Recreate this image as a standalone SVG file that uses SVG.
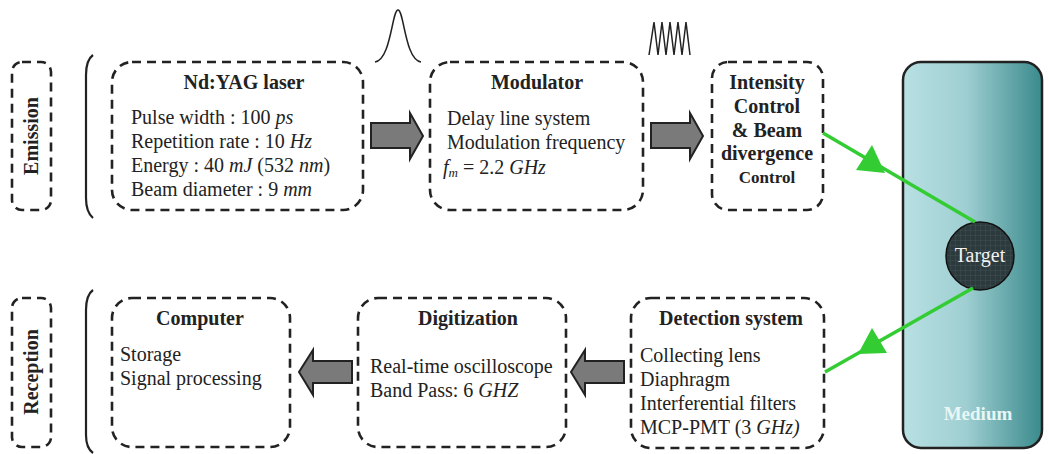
<svg xmlns="http://www.w3.org/2000/svg" width="1049" height="454" viewBox="0 0 1049 454">
<defs>
<style>
.box{fill:none;stroke:#222;stroke-width:2.6;stroke-dasharray:9 6}
text{font-family:'Liberation Serif','Times New Roman',Tinos,'DejaVu Serif',serif;font-size:20px;fill:#222}
.b{font-weight:bold}
.c{text-anchor:middle}
.garrow{fill:#7a7a7a;stroke:#222;stroke-width:2;stroke-linejoin:miter}
.green{stroke:#33cc33;stroke-width:3.5;fill:none}
.gh{fill:#33cc33}
</style>
<linearGradient id="med" x1="0" y1="0" x2="1" y2="0">
<stop offset="0" stop-color="#b8e0e3"/>
<stop offset="0.45" stop-color="#9fcfd2"/>
<stop offset="1" stop-color="#3a8a8c"/>
</linearGradient>
<pattern id="grid" width="5" height="5" patternUnits="userSpaceOnUse">
<rect width="5" height="5" fill="#2c3a3d"/>
<path d="M0,0H5M0,0V5" stroke="#4a5a5c" stroke-width="0.6"/>
</pattern>
</defs>
<rect width="1049" height="454" fill="#fff"/>

<g id="medium">
<rect x="903" y="62" width="139" height="386" rx="18" fill="url(#med)" stroke="#222" stroke-width="2.5"/>
<text class="b c" x="978" y="420" style="fill:#e8f6f6;font-size:19px">Medium</text>
</g>

<g id="emission">
<rect class="box" x="12" y="62" width="39" height="148" rx="10"/>
<text class="b c" transform="translate(38,136) rotate(-90)">Emission</text>
</g>
<g id="reception">
<rect class="box" x="12" y="298" width="39" height="149" rx="10"/>
<text class="b c" transform="translate(38,372) rotate(-90)">Reception</text>
</g>
<g id="brackets">
<path d="M93,55 Q86,60 86,75 V198 Q86,212 93,218" fill="none" stroke="#222" stroke-width="2.2"/>
<path d="M93,290 Q86,295 86,310 V435 Q86,448 93,453" fill="none" stroke="#222" stroke-width="2.2"/>
</g>

<g id="laser">
<rect class="box" x="112" y="62" width="251" height="148" rx="20"/>
<text class="b c" x="244" y="89">Nd:YAG laser</text>
<text x="131" y="124">Pulse width : 100 <tspan font-style="italic">ps</tspan></text>
<text x="131" y="148">Repetition rate : 10 <tspan font-style="italic">Hz</tspan></text>
<text x="131" y="172">Energy : 40 <tspan font-style="italic">mJ</tspan> (532 <tspan font-style="italic">nm</tspan>)</text>
<text x="131" y="196">Beam diameter : 9 <tspan font-style="italic">mm</tspan></text>
</g>

<g id="modulator">
<rect class="box" x="430" y="62" width="213" height="148" rx="20"/>
<text class="b c" x="537" y="89">Modulator</text>
<text x="447" y="125">Delay line system</text>
<text x="447" y="149">Modulation frequency</text>
<text x="443" y="174"><tspan font-style="italic">f</tspan><tspan font-style="italic" style="font-size:13px" dy="3">m</tspan><tspan dy="-3"> = 2.2 </tspan><tspan font-style="italic">GHz</tspan></text>
</g>

<g id="intensity">
<rect class="box" x="712" y="62" width="111" height="148" rx="16"/>
<text class="b c" x="767" y="89">Intensity</text>
<text class="b c" x="767" y="113">Control</text>
<text class="b c" x="767" y="137">&amp; Beam</text>
<text class="b c" x="767" y="160">divergence</text>
<text class="b c" x="767" y="183" style="font-size:17px">Control</text>
</g>

<g id="computer">
<rect class="box" x="112" y="298" width="178" height="149" rx="20"/>
<text class="b c" x="200" y="325">Computer</text>
<text x="120" y="361">Storage</text>
<text x="120" y="385">Signal processing</text>
</g>

<g id="digitization">
<rect class="box" x="358" y="298" width="208" height="149" rx="20"/>
<text class="b c" x="468" y="325">Digitization</text>
<text x="370" y="373">Real-time oscilloscope</text>
<text x="370" y="397">Band Pass: 6 <tspan font-style="italic">GHZ</tspan></text>
</g>

<g id="detection">
<rect class="box" x="631" y="298" width="193" height="150" rx="20"/>
<text class="b c" x="731" y="325">Detection system</text>
<text x="640" y="362">Collecting lens</text>
<text x="640" y="386">Diaphragm</text>
<text x="640" y="410">Interferential filters</text>
<text x="640" y="434">MCP-PMT (3 <tspan font-style="italic">GHz)</tspan></text>
</g>

<g id="target">
<circle cx="980" cy="256" r="34" fill="url(#grid)" stroke="#111" stroke-width="1.5"/>
<text class="c" x="980" y="262" style="fill:#f2f2f2">Target</text>
</g>

<g id="signals">
<path d="M375,62 C391,60 392,10 398,10 C404,10 405,60 421,62" fill="none" stroke="#222" stroke-width="1.5"/>
<path d="M649,55 L654,22 L658,55 L662,22 L666,55 L670,22 L674,55 L678,22 L682,55 L686,22 L690,55" fill="none" stroke="#222" stroke-width="1.5" stroke-linejoin="miter"/>
</g>

<g id="connectors">
<path class="garrow" d="M371,123 H410 V113 L423,136 L410,159 V148 H371 Z"/>
<path class="garrow" d="M651,123 H690 V113 L703,136 L690,159 V148 H651 Z"/>
<path class="garrow" d="M352,361 H313 V350 L299,372 L313,395 V383 H352 Z"/>
<path class="garrow" d="M624,361 H585 V350 L571,372 L585,395 V383 H624 Z"/>
<line class="green" x1="823" y1="133" x2="975" y2="222"/>
<polygon class="gh" points="885,173 856,170 872,145"/>
<line class="green" x1="973" y1="288" x2="825" y2="372"/>
<polygon class="gh" points="858,354 872,328 887,353"/>
</g>
</svg>
